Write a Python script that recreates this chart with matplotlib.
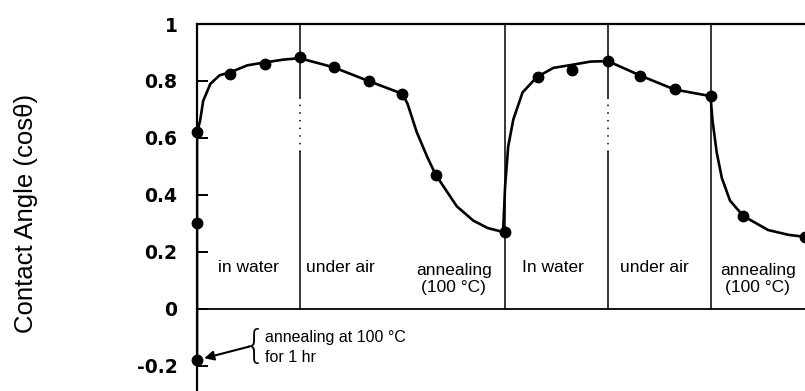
import matplotlib
matplotlib.use('Agg')
import matplotlib.pyplot as plt

plt.rcParams['font.family'] = ['Liberation Sans', 'DejaVu Sans']

# measured contact angle (cos theta) points, x in process stages
mark_x = [0, 0, 0, 0.32, 0.66, 1.0, 1.33, 1.67, 2.0, 2.33, 3.0, 3.32, 3.65, 4.0, 4.31, 4.65, 5.0, 5.32, 5.92]
mark_y = [-0.18, 0.30, 0.62, 0.825, 0.86, 0.885, 0.848, 0.80, 0.755, 0.47, 0.27,
          0.814, 0.839, 0.87, 0.818, 0.772, 0.747, 0.326, 0.253]

# guide curve
curve_x = [0, 0, 0.03, 0.06, 0.13, 0.22, 0.32, 0.49, 0.66, 0.84, 1.0, 1.33, 1.67, 2.0,
           2.05, 2.14, 2.24, 2.32, 2.40, 2.53, 2.69, 2.83, 2.98, 3.0, 3.03, 3.08, 3.17,
           3.31, 3.47, 3.64, 3.83, 4.0, 4.31, 4.65, 5.0, 5.02, 5.06, 5.11, 5.19, 5.32,
           5.56, 5.76, 5.92]
curve_y = [-0.18, 0.62, 0.66, 0.73, 0.79, 0.82, 0.83, 0.855, 0.865, 0.875, 0.88, 0.848,
           0.80, 0.755, 0.72, 0.62, 0.535, 0.474, 0.43, 0.36, 0.31, 0.284, 0.27, 0.43,
           0.57, 0.665, 0.76, 0.814, 0.846, 0.856, 0.868, 0.87, 0.82, 0.77, 0.747, 0.66,
           0.55, 0.46, 0.38, 0.326, 0.277, 0.26, 0.253]

stage_labels = ['in water', 'under air', 'annealing\n(100 °C)',
                'In water', 'under air', 'annealing\n(100 °C)']
stage_pos = [0.5, 1.4, 2.5, 3.47, 4.45, 5.46]
boundaries = [1, 3, 4, 5]

yticks = [-0.2, 0, 0.2, 0.4, 0.6, 0.8, 1]
ytick_labels = ['-0.2', '0', '0.2', '0.4', '0.6', '0.8', '1']

fig = plt.figure(figsize=(8.05, 3.91), dpi=100)
ax = fig.add_axes([197 / 805, 0, 608 / 805, 367 / 391])

ax.plot(curve_x, curve_y, color='black', lw=1.9, zorder=3)
ax.plot(mark_x, mark_y, 'o', color='black', ms=7.5, clip_on=False, zorder=4)

# stage separators and zero line
ax.axhline(0, color='black', lw=1.3)
for b in boundaries:
    if b in (1, 4):
        ax.plot([b, b], [0.74, 1], color='black', lw=1.1)
        ax.plot([b, b], [0.55, 0.74], color='black', lw=1.1, ls=(0, (1, 4)))
        ax.plot([b, b], [0, 0.55], color='black', lw=1.1)
    else:
        ax.plot([b, b], [0, 1], color='black', lw=1.1)

for lab, xp in zip(stage_labels, stage_pos):
    yp = 0.105 if '\n' in lab else 0.144
    ax.text(xp, yp, lab, ha='center', va='center', fontsize=12.5, linespacing=1.2)

# note for the starting point
ax.text(0.55, -0.135, '{', ha='center', va='center', fontsize=28,
        family='DejaVu Sans', fontweight='light')
ax.text(0.66, -0.135, 'annealing at 100 °C\nfor 1 hr', ha='left', va='center',
        fontsize=11.5, linespacing=1.45)
ax.annotate('', xy=(0.07, -0.173), xytext=(0.51, -0.132),
            arrowprops=dict(arrowstyle='-|>', color='black', lw=1.5,
                            mutation_scale=14, shrinkA=0, shrinkB=0))

ax.set_xlim(0, 5.92)
ax.set_ylim(-0.288, 1)
ax.set_xticks([])
ax.set_yticks(yticks)
ax.set_yticklabels(ytick_labels, fontsize=13.5, family='DejaVu Sans', fontweight='bold')
ax.tick_params(axis='y', direction='in', length=8, width=1.4, pad=14)

ax.spines['right'].set_visible(False)
ax.spines['bottom'].set_visible(False)
ax.spines['left'].set_linewidth(1.6)
ax.spines['top'].set_linewidth(1.6)

ax.set_ylabel('Contact Angle (cosθ)', fontsize=18.5)
ax.yaxis.set_label_coords(-0.262, 0.484)

plt.savefig('out.png', dpi=100)
